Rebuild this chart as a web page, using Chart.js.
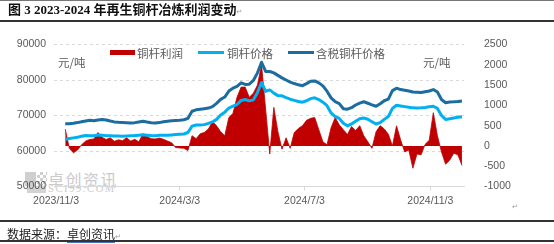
<!DOCTYPE html>
<html lang="zh">
<head>
<meta charset="UTF-8" />
<title>2023-2024年再生铜杆冶炼利润变动</title>
<script src="https://cdn.jsdelivr.net/npm/chart.js"></script>
<style>
  body { margin: 0; background: #fff; }
  #page { position: relative; width: 554px; height: 244px; overflow: hidden; font-family: "Noto Sans CJK SC", sans-serif; }
  #page > * { position: absolute; }
  .rule { left: 0; width: 554px; background: #333; }
  .lg-text, .unit { font-size: 11.5px; line-height: 14px; color: #595959; white-space: nowrap; }
  .mark { font-size: 7px; color: #999; font-family: "DejaVu Sans", sans-serif; }
  canvas { left: 0; top: 0; }
</style>
</head>
<body>
<div id="page">
  <!-- watermark, under the canvas -->
  <div style="left:25px;top:172px;width:11px;height:14px;background:#cfcfcf;"></div>
  <div style="left:37px;top:172px;width:10px;height:14px;background-image:conic-gradient(#cfcfcf 25%, transparent 0 50%, #cfcfcf 0 75%, transparent 0);background-size:6px 6px;"></div>
  <div style="left:27px;top:186px;width:19px;height:7px;background:#d3d3d3;"></div>
  <div style="left:48px;top:169px;font-size:16px;line-height:20px;letter-spacing:1.5px;color:#cbcbcb;">卓创资讯</div>
  <div style="left:48px;top:183px;font-family:'Liberation Serif',serif;font-size:10.5px;line-height:12px;letter-spacing:1.6px;color:#cbcbcb;">SCI99.COM</div>

  <canvas id="chart" width="554" height="244"></canvas>

  <div class="rule" style="top:0;height:1px;background:#777;"></div>
  <div style="left:8px;top:1px;font-family:'Liberation Serif','Noto Sans CJK SC',serif;font-weight:bold;font-size:13px;line-height:17px;color:#111;white-space:nowrap;">图 3 2023-2024 年再生铜杆冶炼利润变动<span class="mark" style="font-weight:normal;">&#8629;</span></div>
  <div class="rule" style="top:20px;height:2px;"></div>

  <div style="left:110px;top:50px;width:25px;height:5px;background:#C00000;"></div>
  <div class="lg-text" style="left:137px;top:45.5px;">铜杆利润</div>
  <div style="left:198px;top:51px;width:26px;height:3px;background:#00B0F0;"></div>
  <div class="lg-text" style="left:227px;top:45.5px;">铜杆价格</div>
  <div style="left:288px;top:51px;width:26px;height:3px;background:#1B6CA0;"></div>
  <div class="lg-text" style="left:316px;top:45.5px;">含税铜杆价格</div>

  <div class="unit" style="left:58px;top:55px;">元/吨</div>
  <div class="unit" style="left:423px;top:55px;">元/吨</div>

  <div class="mark" style="left:512px;top:203px;">&#8629;</div>
  <div class="rule" style="top:220px;height:2px;"></div>
  <div style="left:7px;top:226px;font-size:12px;line-height:16px;color:#222;white-space:nowrap;">数据来源：<span style="border-bottom:1px solid #4472C4;">卓创资讯</span><span class="mark">&#8629;</span></div>
  <div class="rule" style="top:240px;height:2px;"></div>
</div>

<script>
  // sample dates (every 4 days)
  const dates = [
    '2023-11-12','2023-11-16','2023-11-20','2023-11-24','2023-11-28','2023-12-02','2023-12-06','2023-12-10','2023-12-14','2023-12-18',
    '2023-12-22','2023-12-26','2023-12-30','2024-01-03','2024-01-07','2024-01-11','2024-01-15','2024-01-19','2024-01-23','2024-01-27',
    '2024-01-31','2024-02-04','2024-02-08','2024-02-12','2024-02-16','2024-02-20','2024-02-24','2024-02-28','2024-03-03','2024-03-07',
    '2024-03-11','2024-03-15','2024-03-19','2024-03-23','2024-03-27','2024-03-31','2024-04-04','2024-04-08','2024-04-12','2024-04-16',
    '2024-04-20','2024-04-24','2024-04-28','2024-05-02','2024-05-06','2024-05-10','2024-05-14','2024-05-18','2024-05-22','2024-05-26',
    '2024-05-30','2024-06-03','2024-06-07','2024-06-11','2024-06-15','2024-06-19','2024-06-23','2024-06-27','2024-07-01','2024-07-05',
    '2024-07-09','2024-07-13','2024-07-17','2024-07-21','2024-07-25','2024-07-29','2024-08-02','2024-08-06','2024-08-10','2024-08-14',
    '2024-08-18','2024-08-22','2024-08-26','2024-08-30','2024-09-03','2024-09-07','2024-09-11','2024-09-15','2024-09-19','2024-09-23',
    '2024-09-27','2024-10-01','2024-10-05','2024-10-09','2024-10-13','2024-10-17','2024-10-21','2024-10-25','2024-10-29','2024-11-02',
    '2024-11-06','2024-11-10','2024-11-14','2024-11-18','2024-11-22','2024-11-26','2024-11-30','2024-12-04'
  ];

  // 铜杆利润 (元/吨, right axis)
  const profit = [
    415, -60, -171, -100, 30, 120, 160, 171, 330, 211,
    160, 200, 114, 150, 130, 200, 120, 163, 100, 300,
    230, 180, 171, 195, 165, 120, 80, -40, -50, -57,
    -114, 250, 180, 300, 333, 415, 600, 496, 350, 250,
    700, 800, 1200, 1450, 1450, 1200, 1300, 1500, 2000, 900,
    -200, 950, 350, -80, 200, -60, 330, 430, 500, 630,
    680, 700, 400, 100, 30, 450, 700, 520, 400, 280,
    480, 380, 500, 250, 100, -60, 350, 500, 420, 290,
    0, 496, 150, -150, -100, -550, -200, -220, 40, 140,
    820, 250, -150, -450, -350, -180, -220, -480
  ];

  // 铜杆价格 (元/吨, left axis)
  const rodPrice = [
    63300, 63500, 63700, 63900, 64130, 64340, 64280, 64290, 64480, 64410,
    64330, 64270, 64230, 64200, 64170, 64220, 64290, 64340, 64440, 64550,
    64450, 64340, 64310, 64410, 64450, 64470, 64540, 64620, 64700, 64800,
    65200, 67000, 67330, 67340, 67430, 67770, 68180, 68910, 70150, 70940,
    72100, 72620, 73080, 74250, 74500, 74110, 74400, 76500, 79300, 76800,
    77200, 76300, 75600, 75540, 75010, 74590, 74270, 73960, 73760, 74160,
    74760, 74990, 74500, 73760, 72770, 70720, 69700, 69170, 67830, 67080,
    67620, 68360, 69100, 69280, 68930, 68260, 67620, 67990, 68910, 69700,
    72000, 72900, 72700, 72500, 72300, 72150, 72100, 72150, 72250, 72450,
    72600, 72000, 70000, 68900, 69100, 69300, 69500, 69650
  ];

  // 含税铜杆价格 (元/吨, left axis)
  const taxRodPrice = [
    67650, 67700, 67800, 68000, 68230, 68450, 68650, 68500, 68750, 68850,
    68730, 68450, 68200, 68070, 68010, 67960, 67920, 67990, 68190, 68400,
    68150, 67940, 67870, 68000, 68240, 68380, 68490, 68600, 68680, 68800,
    69200, 71200, 71600, 71770, 71920, 72090, 72480, 73410, 74530, 75200,
    76880, 77700, 78200, 79220, 78740, 78820, 79880, 82000, 85000, 82400,
    82400, 82000, 81300, 80600, 80000, 79400, 79000, 78640, 78400, 78980,
    79630, 79750, 79200, 78350, 76850, 74960, 73900, 73340, 71900, 71780,
    72200, 72960, 73500, 73880, 73450, 73000, 72600, 73300, 74150, 74600,
    77000, 77700, 77300, 77100, 76900, 76600, 76550, 76500, 76700, 76900,
    77300, 76600, 74500, 73600, 73800, 73850, 73950, 74100
  ];

  const tickDates = ['2023-11-03', '2024-03-03', '2024-07-03', '2024-11-03'];
  const tickLabels = ['2023/11/3', '2024/3/3', '2024/7/3', '2024/11/3'];

  // days since 2023-11-03
  function dayOf(s) {
    const p = s.split('-').map(Number);
    return (Date.UTC(p[0], p[1] - 1, p[2]) - Date.UTC(2023, 10, 3)) / 86400000;
  }
  const xs = dates.map(dayOf);
  const pts = arr => arr.map((v, i) => ({ x: xs[i], y: v }));

  const tickFont = { family: '"Liberation Sans", Arial, sans-serif', size: 10.5 };
  const grey = '#595959';

  new Chart(document.getElementById('chart'), {
    type: 'line',
    data: {
      datasets: [
        {
          label: '含税铜杆价格',
          data: pts(taxRodPrice),
          yAxisID: 'y',
          borderColor: '#1B6CA0',
          borderWidth: 3,
          pointRadius: 0,
          fill: false,
          order: 1
        },
        {
          label: '铜杆价格',
          data: pts(rodPrice),
          yAxisID: 'y',
          borderColor: '#00B0F0',
          borderWidth: 3,
          pointRadius: 0,
          fill: false,
          order: 2
        },
        {
          label: '铜杆利润',
          data: pts(profit),
          yAxisID: 'y1',
          borderColor: '#C00000',
          backgroundColor: '#C00000',
          borderWidth: 0.8,
          pointRadius: 0,
          fill: 'origin',
          order: 3
        }
      ]
    },
    options: {
      responsive: false,
      animation: false,
      layout: { padding: { top: 44.5, bottom: 27.5, left: 0, right: 0 } },
      plugins: { legend: { display: false }, tooltip: { enabled: false } },
      elements: { line: { tension: 0, borderJoinStyle: 'round' } },
      scales: {
        x: {
          type: 'linear',
          min: -2,
          max: 399,
          afterBuildTicks: s => { s.ticks = tickDates.map(d => ({ value: dayOf(d) })); },
          afterFit: s => { s.height = 30; },
          ticks: {
            callback: (v, i) => tickLabels[i],
            color: grey,
            font: tickFont,
            padding: 4,
            maxRotation: 0,
            autoSkip: false
          },
          grid: { drawOnChartArea: false, drawTicks: true, tickLength: 4, color: '#d9d9d9' },
          border: { color: '#d9d9d9', width: 1 }
        },
        y: {
          position: 'left',
          min: 50000,
          max: 90000,
          afterFit: s => { s.width = 54; },
          ticks: { stepSize: 10000, callback: v => String(v), color: grey, font: tickFont, padding: 8 },
          grid: {
            color: c => (c.tick && c.tick.value === 50000 ? 'rgba(0,0,0,0)' : '#d9d9d9'),
            drawTicks: false
          },
          border: { display: false, dash: [3, 3] }
        },
        y1: {
          position: 'right',
          min: -1000,
          max: 2500,
          afterFit: s => { s.width = 90; },
          ticks: { stepSize: 500, callback: v => String(v), color: grey, font: tickFont, padding: 12 },
          grid: { display: false },
          border: { display: false }
        }
      }
    }
  });
</script>
</body>
</html>
